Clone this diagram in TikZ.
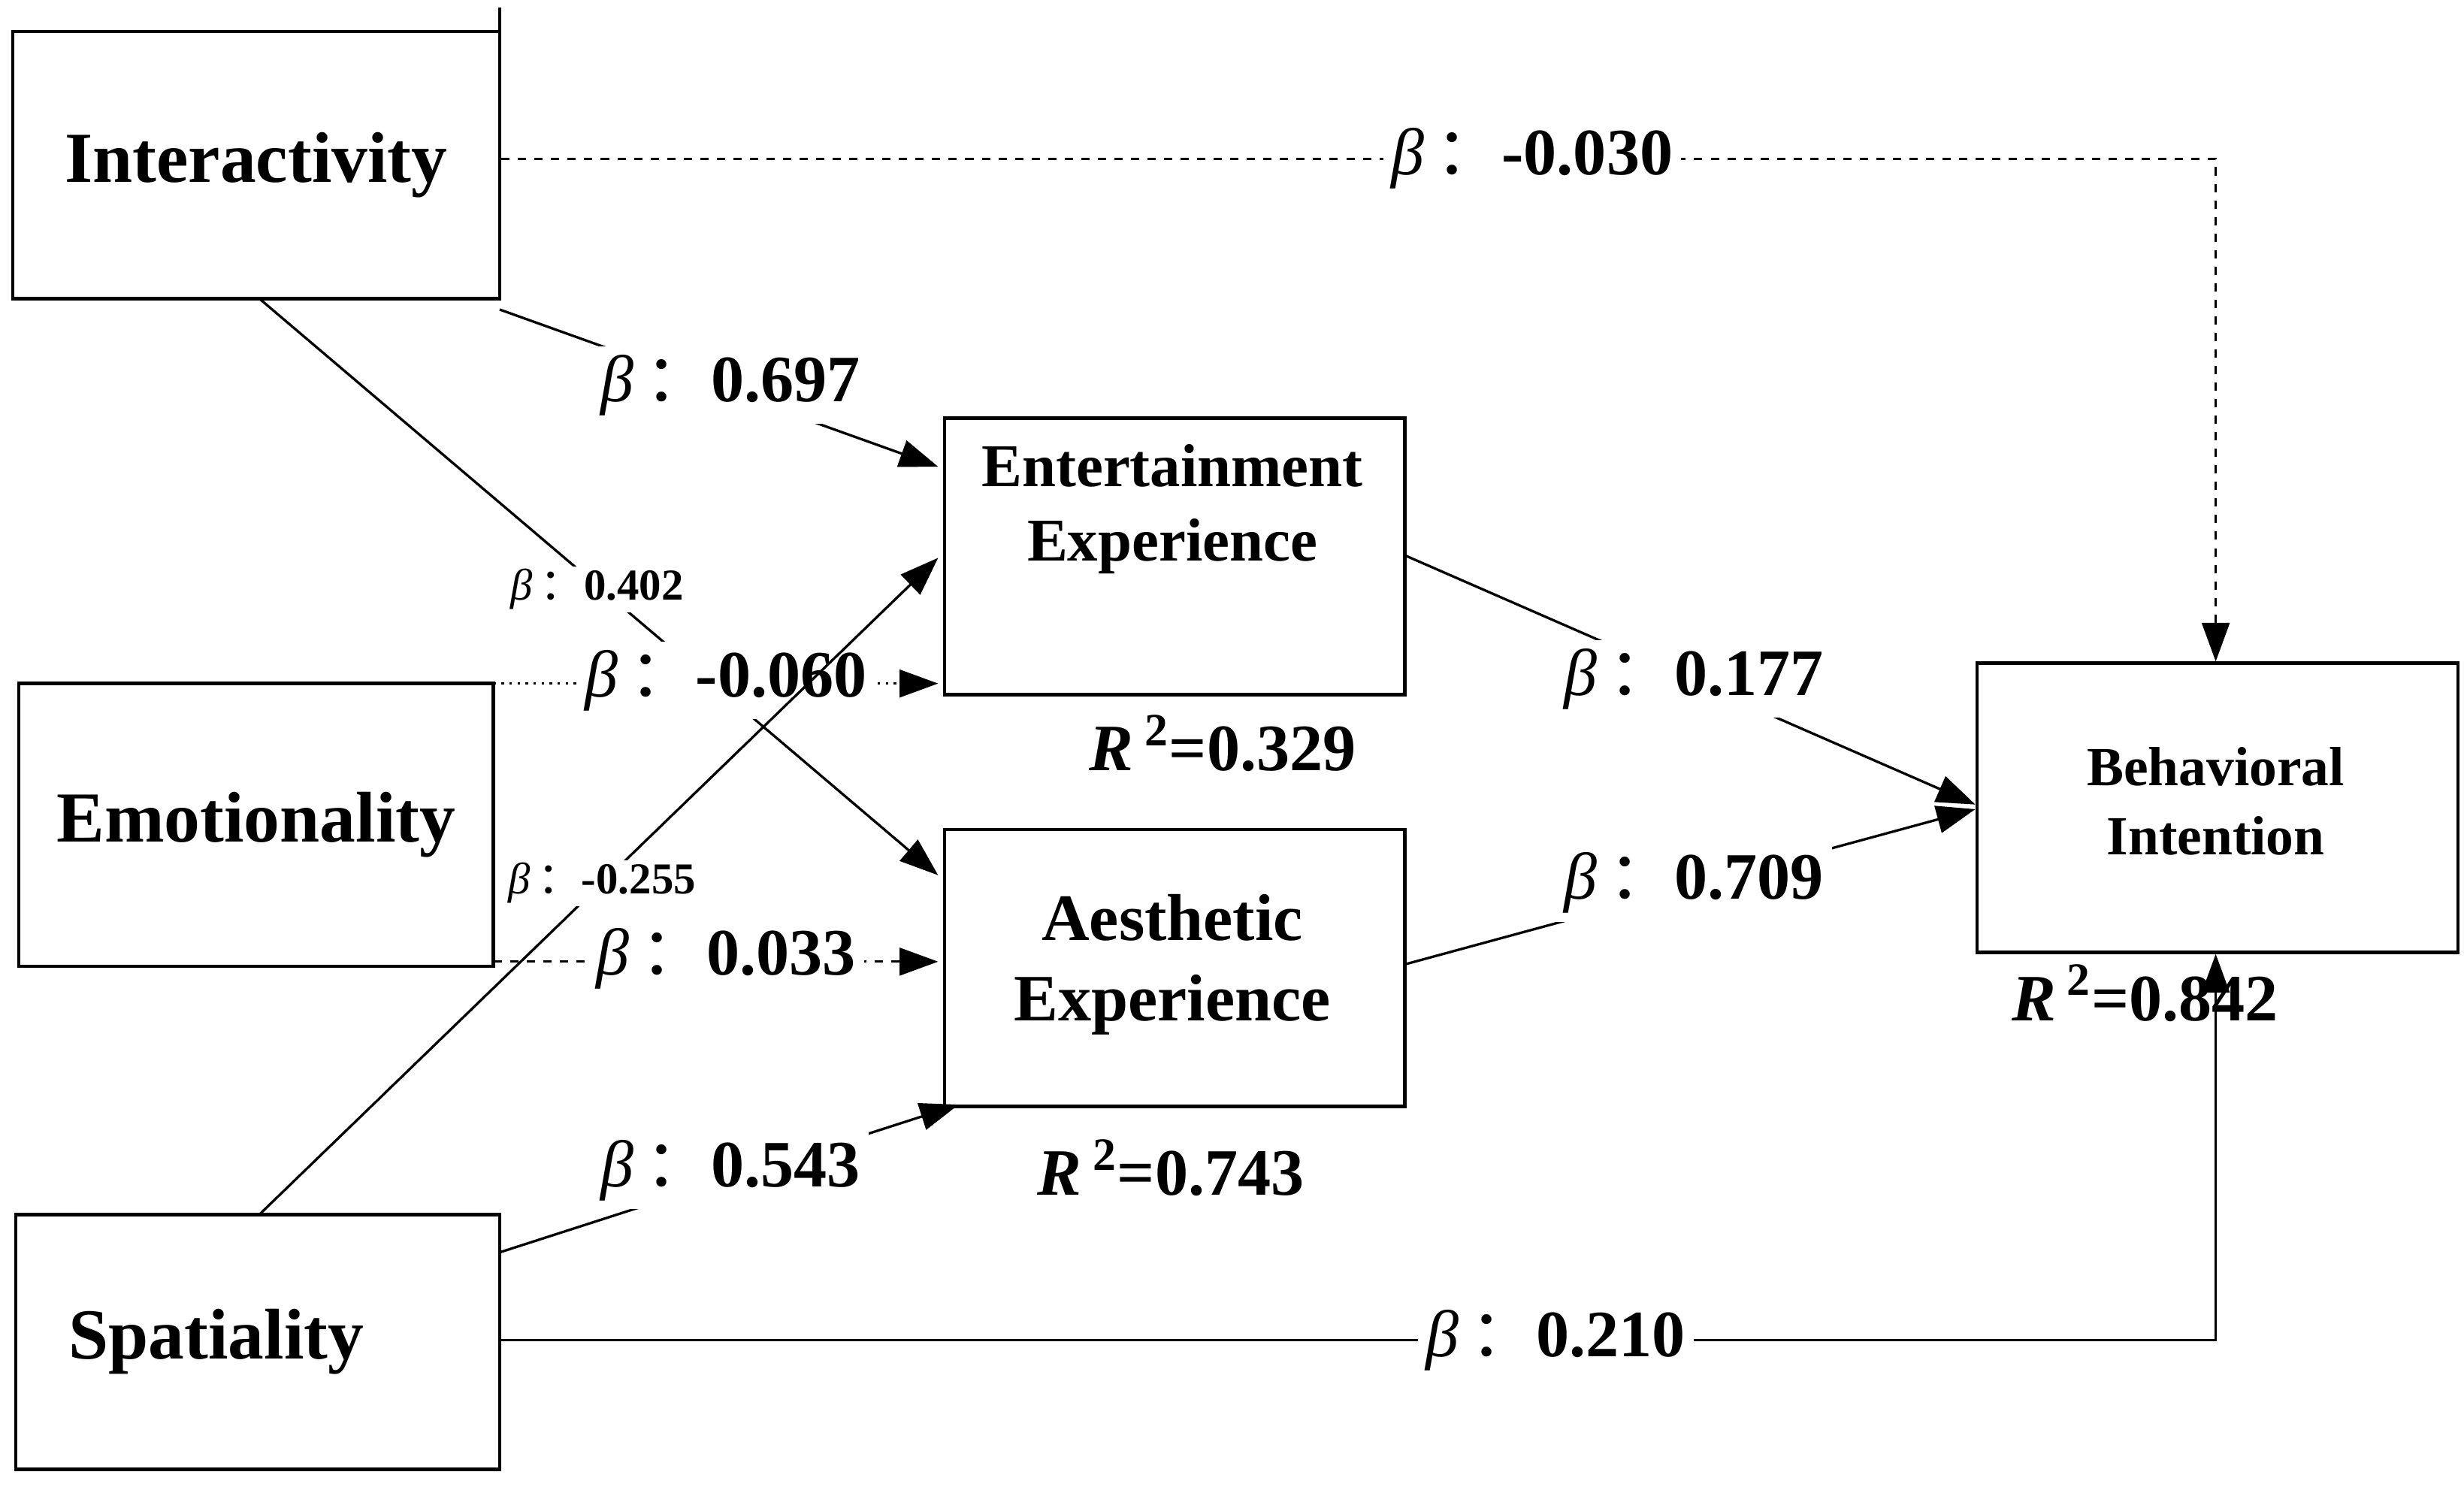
\documentclass[tikz,border=0pt]{standalone}
\usepackage{fontspec}
\setmainfont{Liberation Serif}
\newfontfamily\cjk{Noto Sans CJK SC}
\usetikzlibrary{arrows.meta}
\newcommand{\bb}[1]{{\normalfont\itshape β}\,{\cjk ：}\textbf{#1}}
\tikzset{
 box/.style={draw,line width=1.2pt,font=\bfseries\fontsize{26}{31}\selectfont,align=center,inner sep=0pt},
 lab/.style={fill=white,inner sep=3pt,font=\fontsize{24}{28}\selectfont},
 slab/.style={fill=white,inner sep=1pt,font=\fontsize{16}{19}\selectfont},
 rl/.style={font=\bfseries\fontsize{24}{28}\selectfont},
 con/.style={line width=0.9pt,-{Triangle[length=14pt,width=10pt]}}
}
\begin{document}
\begin{tikzpicture}[x=0.02cm,y=-0.02cm]
\useasboundingbox (0,0) rectangle (1568,946);
\node[box,minimum width=310*0.02cm,minimum height=170*0.02cm] (int) at (163,105) {Interactivity};
\node[box,minimum width=302*0.02cm,minimum height=180*0.02cm] (emo) at (163,525) {Emotionality};
\node[box,minimum width=308*0.02cm,minimum height=162*0.02cm] (spa) at (164,854) {\hspace*{-30pt}Spatiality};
\node[box,minimum width=293*0.02cm,minimum height=176*0.02cm,anchor=north west,font=\bfseries\fontsize{22}{26}\selectfont] (ent) at (600,265) {};
\node[font=\bfseries\fontsize{22}{27}\selectfont,align=center] at (746,324) {Entertainment\\Experience};
\node[box,minimum width=293*0.02cm,minimum height=176*0.02cm,anchor=north west] (aes) at (600,527) {};
\node[font=\bfseries\fontsize{24}{29}\selectfont,align=center] at (746,614) {Aesthetic\\Experience};
\node[box,minimum width=306*0.02cm,minimum height=184*0.02cm,anchor=north west] (beh) at (1257,421) {};
\node[font=\bfseries\fontsize{20}{25}\selectfont,align=center] at (1410,510) {Behavioral\\Intention};
\draw[line width=1.2pt] (318,20) -- (318,5);
% paths
\draw[con,dashed] (int.east |- 0,101) -- (1410,101) coordinate (c1) -- (beh.north -| c1);
\node[lab] at (975,101) {\bb{-0.030}};
\draw[con] (318,197) -- (597,297);
\node[lab] at (465,245) {\bb{0.697}};
\draw[con] (165,190) -- (597,557);
\node[slab] at (380,375) {\bb{0.402}};
\draw[con,dotted] (314,435) -- (597,435);
\node[lab] at (462,433) {\bb{-0.060}};
\draw[con] (165,773) -- (597,355);
\node[slab] at (383,562) {\bb{-0.255}};
\draw[con,dashed] (314,612) -- (597,612);
\node[lab] at (462,610) {\bb{0.033}};
\draw[con] (318,797) -- (610,703);
\node[lab] at (465,745) {\bb{0.543}};
\draw[con] (318,853) -- (1410,853) coordinate (c2) -- (beh.south -| c2);
\node[lab] at (990,853) {\bb{0.210}};
\draw[con] (893,353) -- (1257,512);
\node[lab] at (1078,432) {\bb{0.177}};
\draw[con] (893,614) -- (1257,515);
\node[lab] at (1078,562) {\bb{0.709}};
\node[rl] at (778,473) {\textit{R}\,\textsuperscript{2}=0.329};
\node[rl] at (745,743) {\textit{R}\,\textsuperscript{2}=0.743};
\node[rl] at (1365,632) {\textit{R}\,\textsuperscript{2}=0.842};
\end{tikzpicture}
\end{document}
